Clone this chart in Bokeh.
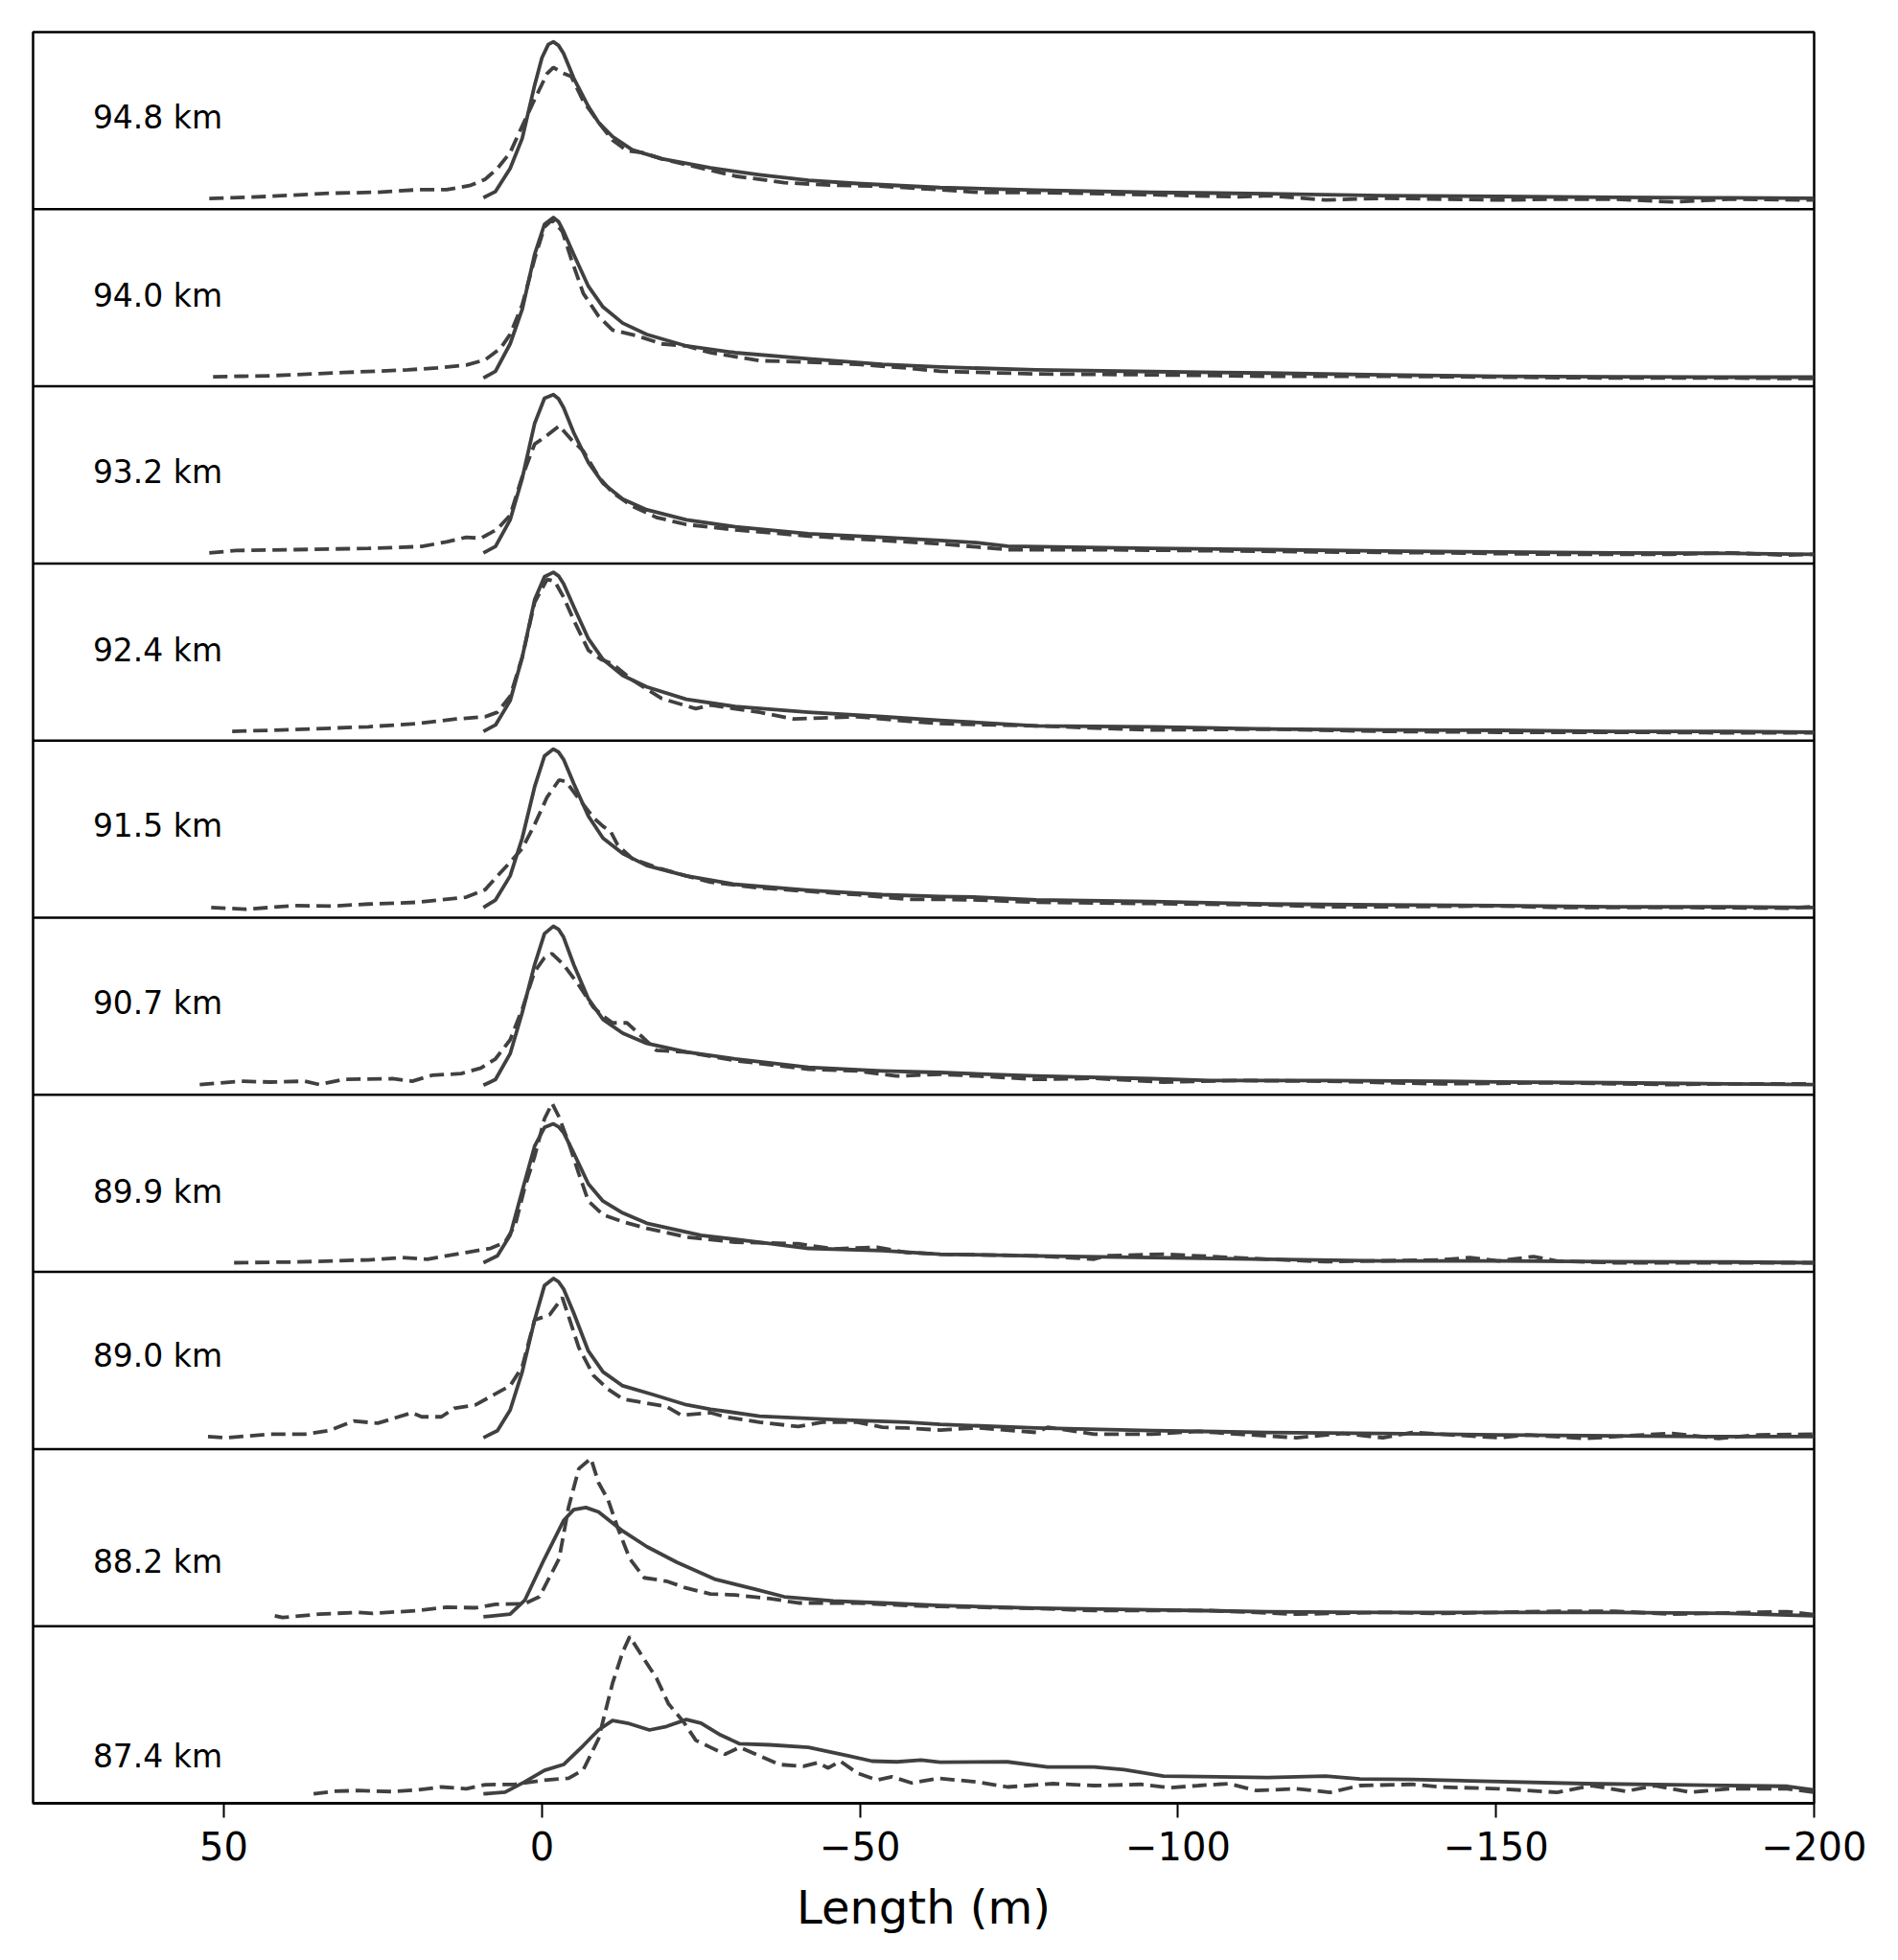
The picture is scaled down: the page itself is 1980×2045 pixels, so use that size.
from bokeh.plotting import figure
from bokeh.models import Range1d, FixedTicker, Span
from bokeh.core.properties import value
from bokeh.embed import file_html
from bokeh.resources import INLINE

# ---------------- data (x in m, y as fraction of panel height) ----------------
altitudes = ["94.8 km", "94.0 km", "93.2 km", "92.4 km", "91.5 km",
             "90.7 km", "89.9 km", "89.0 km", "88.2 km", "87.4 km"]
label_y = [0.52, 0.51, 0.515, 0.51, 0.52, 0.52, 0.455, 0.525, 0.365, 0.265]
label_x = 70.6

solid_948 = [(9.2,0.065),(7.3,0.10),(5.0,0.23),(3.1,0.40),(1.15,0.70),(0,0.855),(-1,0.93),(-1.8,0.945),(-2.6,0.925),(-3.4,0.88),(-5,0.74),(-7.3,0.58),(-8.9,0.49),(-11.1,0.41),(-14.2,0.335),(-18.8,0.285),(-26.5,0.233),(-34.2,0.195),(-41.9,0.163),(-49.6,0.145),(-62.6,0.122),(-77.7,0.108),(-95.9,0.095),(-114.1,0.088),(-132.2,0.077),(-150.4,0.072),(-168.6,0.067),(-186.7,0.064),(-200,0.062)]
dash_948 = [(52.3,0.06),(42.7,0.073),(33.5,0.09),(25.8,0.096),(19.6,0.11),(15,0.11),(11.2,0.135),(8.9,0.17),(7,0.23),(5,0.32),(3.1,0.47),(1.15,0.62),(-0.8,0.765),(-1.8,0.80),(-3.2,0.77),(-4.6,0.75),(-6.5,0.61),(-8.9,0.49),(-11.1,0.39),(-13.4,0.33),(-15.7,0.32),(-18.8,0.285),(-23.4,0.246),(-30.4,0.187),(-38.1,0.15),(-45.8,0.135),(-53.5,0.13),(-62.6,0.11),(-68.6,0.095),(-77.7,0.095),(-95.9,0.082),(-109.5,0.07),(-114.1,0.077),(-123.2,0.052),(-132.2,0.062),(-150.4,0.052),(-159.5,0.057),(-168.6,0.057),(-177.7,0.041),(-186.7,0.057),(-200,0.052)]

solid_940 = [(9.2,0.047),(7.3,0.085),(5,0.24),(3.1,0.435),(1.15,0.745),(-0.4,0.915),(-1.8,0.953),(-2.6,0.93),(-3.4,0.875),(-5,0.745),(-7.3,0.565),(-9.6,0.448),(-12.7,0.357),(-16.5,0.293),(-22.7,0.228),(-30.4,0.19),(-41.9,0.155),(-53.5,0.124),(-62.6,0.109),(-77.7,0.093),(-95.9,0.083),(-114.1,0.075),(-132.2,0.065),(-150.4,0.057),(-168.6,0.054),(-186.7,0.052),(-200,0.052)]
dash_940 = [(51.7,0.054),(42.7,0.06),(31.2,0.078),(21.1,0.093),(16.5,0.104),(11.9,0.12),(8.9,0.15),(6.5,0.215),(5,0.293),(3.1,0.46),(1.15,0.72),(-0.4,0.90),(-1.6,0.94),(-3.2,0.875),(-4.6,0.72),(-6.5,0.525),(-8.9,0.396),(-11.1,0.318),(-15,0.285),(-18.8,0.24),(-22.7,0.228),(-26.5,0.19),(-34.2,0.145),(-41.9,0.137),(-49.6,0.124),(-57.3,0.104),(-62.6,0.085),(-77.7,0.07),(-95.9,0.065),(-114.1,0.057),(-132.2,0.057),(-150.4,0.052),(-168.6,0.047),(-186.7,0.047),(-200,0.044)]

solid_932 = [(9.2,0.06),(7.3,0.096),(5,0.246),(3.1,0.48),(1.15,0.79),(-0.4,0.933),(-1.8,0.953),(-2.6,0.93),(-3.4,0.88),(-5,0.738),(-7.3,0.57),(-9.6,0.453),(-12.7,0.363),(-16.5,0.303),(-22.7,0.246),(-30.4,0.207),(-41.9,0.168),(-53.5,0.148),(-62.6,0.13),(-68.6,0.117),(-73.2,0.098),(-95.9,0.085),(-114.1,0.078),(-132.2,0.07),(-150.4,0.065),(-168.6,0.06),(-186.7,0.057),(-200,0.052)]
dash_932 = [(52.3,0.06),(48.1,0.073),(38.9,0.078),(27.3,0.085),(18.9,0.096),(15,0.122),(11.9,0.148),(9.6,0.142),(7,0.194),(5,0.272),(3.1,0.49),(1.15,0.674),(-0.4,0.712),(-2.7,0.777),(-4.6,0.70),(-6.5,0.635),(-8.9,0.49),(-11.1,0.40),(-14.2,0.324),(-18,0.26),(-22.7,0.22),(-30.4,0.19),(-41.9,0.155),(-53.5,0.13),(-62.6,0.111),(-73.2,0.078),(-86.8,0.078),(-105,0.072),(-123.2,0.065),(-141.3,0.06),(-159.5,0.052),(-177.7,0.052),(-186.7,0.06),(-195.8,0.047),(-200,0.052)]

solid_924 = [(9.2,0.052),(7.3,0.088),(5,0.225),(3.1,0.47),(1.15,0.795),(-0.4,0.925),(-1.8,0.95),(-2.6,0.93),(-3.4,0.886),(-5,0.756),(-7.3,0.575),(-9.6,0.458),(-12.7,0.368),(-16.5,0.303),(-22.7,0.233),(-30.4,0.192),(-41.9,0.16),(-53.5,0.135),(-62.6,0.114),(-77.7,0.083),(-95.9,0.078),(-114.1,0.065),(-132.2,0.06),(-150.4,0.058),(-168.6,0.052),(-186.7,0.052),(-200,0.047)]
dash_924 = [(48.7,0.052),(38.9,0.062),(27.3,0.078),(19.6,0.096),(13.5,0.122),(8.9,0.135),(7,0.16),(5,0.25),(3.1,0.47),(1.15,0.78),(-0.8,0.91),(-2,0.90),(-3.4,0.81),(-5,0.68),(-7.3,0.51),(-9.3,0.458),(-11.1,0.433),(-14.2,0.342),(-18.8,0.238),(-24.2,0.18),(-26.5,0.20),(-34.2,0.16),(-39.6,0.122),(-49.6,0.135),(-57.3,0.11),(-62.6,0.096),(-77.7,0.083),(-95.9,0.06),(-114.1,0.065),(-132.2,0.052),(-150.4,0.047),(-168.6,0.047),(-186.7,0.044),(-200,0.044)]

solid_915 = [(9.2,0.058),(7.3,0.10),(5,0.236),(3.1,0.449),(1.15,0.739),(-0.4,0.913),(-1.8,0.952),(-2.6,0.935),(-3.4,0.894),(-5,0.758),(-7.3,0.574),(-9.6,0.449),(-12.7,0.362),(-16.5,0.294),(-22.7,0.236),(-30.4,0.188),(-41.9,0.155),(-53.5,0.13),(-62.6,0.12),(-68.6,0.116),(-77.7,0.10),(-95.9,0.091),(-114.1,0.077),(-132.2,0.072),(-150.4,0.068),(-168.6,0.062),(-186.7,0.062),(-200,0.058)]
dash_915 = [(52,0.058),(46.5,0.048),(38.9,0.068),(32.8,0.066),(27.3,0.077),(19.6,0.087),(11.9,0.116),(8.9,0.159),(7,0.236),(5,0.313),(3.1,0.39),(1.15,0.526),(-0.8,0.68),(-2.7,0.778),(-3.8,0.768),(-5.8,0.671),(-8.1,0.565),(-9.6,0.516),(-10.8,0.487),(-11.9,0.41),(-14.2,0.333),(-18.8,0.275),(-22.7,0.236),(-26.5,0.201),(-34.2,0.168),(-41.9,0.149),(-49.6,0.13),(-57.3,0.104),(-62.6,0.104),(-68.6,0.10),(-77.7,0.087),(-95.9,0.08),(-114.1,0.072),(-123.2,0.062),(-132.2,0.062),(-150.4,0.066),(-159.5,0.058),(-177.7,0.058),(-195.8,0.054),(-200,0.062)]

solid_907 = [(9.2,0.054),(7.3,0.087),(5,0.232),(3.1,0.464),(1.15,0.735),(-0.4,0.91),(-1.8,0.952),(-2.6,0.935),(-3.4,0.89),(-5,0.735),(-7.3,0.542),(-9.6,0.426),(-12.7,0.348),(-16.5,0.29),(-22.7,0.242),(-30.4,0.203),(-41.9,0.155),(-53.5,0.135),(-62.6,0.126),(-77.7,0.106),(-95.9,0.091),(-105,0.081),(-123.2,0.081),(-141.3,0.077),(-150.4,0.073),(-168.6,0.068),(-186.7,0.062),(-200,0.058)]
dash_907 = [(53.8,0.058),(47.3,0.077),(42.7,0.072),(37.3,0.077),(35,0.058),(31.2,0.087),(23.5,0.091),(20.4,0.077),(17.3,0.11),(12.7,0.12),(9.6,0.151),(7.3,0.203),(5,0.31),(3.1,0.484),(1.15,0.696),(-0.4,0.774),(-1.6,0.797),(-3.4,0.735),(-5.8,0.619),(-8.1,0.493),(-9.6,0.445),(-11.1,0.406),(-13.4,0.406),(-15.7,0.329),(-18,0.251),(-22.7,0.242),(-30.4,0.193),(-41.9,0.145),(-49.6,0.135),(-55.7,0.106),(-62.6,0.116),(-68.6,0.106),(-77.7,0.087),(-86.8,0.093),(-97.7,0.072),(-109.5,0.081),(-123.2,0.077),(-141.3,0.062),(-159.5,0.068),(-168.6,0.062),(-177.7,0.058),(-186.7,0.062),(-200,0.062)]

solid_899 = [(9.2,0.052),(7,0.091),(5,0.207),(3.1,0.458),(1.15,0.71),(-0.4,0.816),(-1.8,0.836),(-2.6,0.82),(-3.4,0.787),(-5,0.671),(-7.3,0.497),(-9.6,0.40),(-12.7,0.333),(-16.5,0.275),(-25,0.207),(-34.2,0.168),(-41.9,0.133),(-53.5,0.12),(-62.6,0.10),(-77.7,0.091),(-95.9,0.081),(-114.1,0.072),(-132.2,0.062),(-150.4,0.062),(-168.6,0.058),(-186.7,0.056),(-200,0.052)]
dash_899 = [(48.4,0.052),(38.9,0.056),(27.3,0.068),(21.9,0.081),(18,0.072),(11.9,0.11),(8.1,0.133),(5.8,0.168),(4.2,0.265),(2.7,0.478),(1.15,0.652),(-0.4,0.865),(-1.6,0.952),(-2.7,0.874),(-4.2,0.729),(-5.8,0.555),(-7.3,0.40),(-9.6,0.323),(-12.7,0.284),(-16.5,0.246),(-22.7,0.197),(-30.4,0.168),(-40.3,0.159),(-45.8,0.13),(-52.7,0.139),(-57.3,0.11),(-62.6,0.10),(-77.7,0.091),(-86.8,0.072),(-88.6,0.091),(-97.7,0.10),(-114.1,0.072),(-123.2,0.058),(-141.3,0.068),(-145.9,0.081),(-150.4,0.062),(-155.9,0.087),(-159.5,0.062),(-168.6,0.052),(-186.7,0.052),(-200,0.052)]

solid_890 = [(9.2,0.064),(7,0.104),(5,0.22),(3.1,0.436),(1.15,0.729),(-0.4,0.924),(-1.8,0.963),(-2.6,0.945),(-3.4,0.904),(-5,0.768),(-7.3,0.553),(-9.6,0.436),(-12.7,0.357),(-17.3,0.309),(-22.7,0.25),(-26.5,0.225),(-34.2,0.186),(-45.8,0.166),(-57.3,0.152),(-62.6,0.139),(-77.7,0.119),(-95.9,0.104),(-114.1,0.094),(-132.2,0.088),(-150.4,0.08),(-168.6,0.074),(-186.7,0.07),(-200,0.07)]
dash_890 = [(52.5,0.07),(49.6,0.064),(42.7,0.084),(37.3,0.084),(33.5,0.104),(29.6,0.158),(25.8,0.146),(20.4,0.205),(18.9,0.182),(15.8,0.182),(13.8,0.23),(10.4,0.25),(7,0.318),(5,0.357),(3.1,0.465),(1.15,0.729),(-1.2,0.758),(-3.2,0.855),(-4.2,0.748),(-5.8,0.572),(-8.1,0.416),(-10.4,0.338),(-12.7,0.283),(-15.7,0.264),(-19.6,0.24),(-21.9,0.191),(-26.5,0.205),(-28.8,0.182),(-34.2,0.152),(-40.3,0.127),(-44.1,0.152),(-49.6,0.152),(-53.5,0.123),(-57.3,0.119),(-62.6,0.107),(-68.6,0.12),(-77.7,0.094),(-79.5,0.123),(-86.8,0.084),(-95.9,0.084),(-103.2,0.10),(-109.5,0.084),(-118.6,0.064),(-125.9,0.088),(-132.2,0.064),(-136.8,0.094),(-141.3,0.084),(-150.4,0.064),(-155,0.08),(-164.1,0.06),(-173.2,0.08),(-177.7,0.088),(-185,0.06),(-191.3,0.08),(-200,0.084)]

solid_882 = [(9.2,0.053),(5,0.068),(2.7,0.146),(-0.4,0.381),(-3.4,0.596),(-5,0.658),(-6.9,0.67),(-8.9,0.645),(-12.7,0.537),(-16.5,0.449),(-21.2,0.361),(-27.3,0.264),(-33.5,0.209),(-38.1,0.166),(-45.8,0.143),(-53.5,0.131),(-62.6,0.117),(-77.7,0.102),(-95.9,0.092),(-114.1,0.082),(-132.2,0.078),(-150.4,0.078),(-168.6,0.078),(-186.7,0.072),(-200,0.059)]
dash_882 = [(42,0.059),(40.8,0.049),(35,0.068),(28.9,0.078),(26.6,0.072),(19.6,0.088),(15,0.107),(10.4,0.104),(7.3,0.123),(2.7,0.127),(0.4,0.166),(-2.7,0.381),(-4.2,0.674),(-5.8,0.889),(-7.7,0.947),(-8.9,0.81),(-10.4,0.713),(-11.9,0.557),(-13.8,0.381),(-16.1,0.273),(-19.6,0.254),(-22.7,0.215),(-26.5,0.182),(-30.4,0.176),(-35.8,0.156),(-40.3,0.131),(-49.6,0.131),(-57.3,0.117),(-62.6,0.111),(-77.7,0.10),(-86.8,0.088),(-105,0.088),(-118.6,0.068),(-132.2,0.078),(-141.3,0.072),(-159.5,0.084),(-168.6,0.084),(-177.7,0.068),(-195.8,0.082),(-200,0.065)]

solid_874 = [(9.2,0.053),(5.8,0.063),(2.7,0.121),(-0.4,0.186),(-3.4,0.219),(-6.5,0.326),(-8.9,0.414),(-11.1,0.467),(-13.4,0.453),(-16.9,0.414),(-19.6,0.434),(-22.7,0.473),(-25,0.453),(-28.1,0.385),(-31.1,0.336),(-35.8,0.33),(-41.9,0.316),(-48.1,0.268),(-51.9,0.238),(-55.8,0.234),(-59.6,0.244),(-62.6,0.232),(-73.2,0.234),(-79.5,0.205),(-86.8,0.205),(-91.5,0.19),(-97.7,0.154),(-114.1,0.145),(-123.2,0.154),(-128.6,0.137),(-136.8,0.135),(-145.9,0.127),(-164.1,0.111),(-177.7,0.105),(-195.8,0.096),(-200,0.075)]
dash_874 = [(35.9,0.053),(32.7,0.068),(28.9,0.072),(23.5,0.066),(19.6,0.076),(15.8,0.092),(11.9,0.082),(8.9,0.105),(4.2,0.107),(-0.4,0.131),(-4.2,0.141),(-6.5,0.189),(-8.9,0.365),(-11.1,0.678),(-12.7,0.854),(-13.8,0.941),(-15.7,0.834),(-18,0.707),(-19.9,0.561),(-22.2,0.463),(-24.2,0.355),(-26.5,0.316),(-28.8,0.277),(-31.1,0.316),(-34.2,0.268),(-37.3,0.219),(-41.1,0.209),(-43.4,0.229),(-45,0.199),(-46.9,0.238),(-49.6,0.17),(-52.7,0.131),(-55,0.15),(-58.1,0.115),(-62.3,0.141),(-68.6,0.12),(-73.2,0.092),(-80.4,0.111),(-86.8,0.10),(-94.1,0.107),(-98.6,0.088),(-103.2,0.10),(-108,0.111),(-112.3,0.072),(-118.6,0.082),(-123.9,0.062),(-128.6,0.10),(-136.8,0.107),(-141.3,0.092),(-150.4,0.082),(-159.6,0.062),(-165,0.10),(-170.4,0.068),(-175,0.10),(-180.5,0.062),(-186.7,0.082),(-195.8,0.082),(-200,0.062)]

solid_series = [solid_948, solid_940, solid_932, solid_924, solid_915,
                solid_907, solid_899, solid_890, solid_882, solid_874]
dashed_series = [dash_948, dash_940, dash_932, dash_924, dash_915,
                 dash_907, dash_899, dash_890, dash_882, dash_874]

tick_values = [50, 0, -50, -100, -150, -200]
tick_labels = ["50", "0", "\u221250", "\u2212100", "\u2212150", "\u2212200"]
x_label = "Length (m)"

# ---------------- figure ----------------
n = len(altitudes)
LINE = "#404040"

p = figure(frame_width=1858, frame_height=1848,
           x_range=Range1d(80, -200), y_range=Range1d(0, n),
           y_axis_location=None, toolbar_location=None,
           output_backend="svg",
           min_border_left=34, min_border_right=60,
           min_border_top=33, min_border_bottom=120)
p.xgrid.visible = False
p.ygrid.visible = False
p.background_fill_color = "white"
p.border_fill_color = "white"
p.outline_line_color = "black"
p.outline_line_width = 2.5

for k in range(n):
    base = n - 1 - k
    sx = [pt[0] for pt in solid_series[k]]
    sy = [pt[1] + base for pt in solid_series[k]]
    dx = [pt[0] for pt in dashed_series[k]]
    dy = [pt[1] + base for pt in dashed_series[k]]
    p.line(dx, dy, line_color=LINE, line_width=3.8, line_dash="15 7")
    p.line(sx, sy, line_color=LINE, line_width=3.8, line_join="round")
    p.text(x=[label_x], y=[label_y[k] + base], text=[altitudes[k]],
           text_font=value("DejaVu Sans"), text_font_size="33px",
           text_color="black", text_align="left", text_baseline="middle")
    if k > 0:
        p.add_layout(Span(location=base + 1, dimension="width",
                          line_color="black", line_width=2.5))

ax = p.xaxis[0]
ax.ticker = FixedTicker(ticks=tick_values)
ax.major_label_overrides = {v: l for v, l in zip(tick_values, tick_labels)}
ax.minor_tick_line_color = None
ax.major_tick_in = 0
ax.major_tick_out = 15
ax.major_tick_line_width = 2
ax.major_tick_line_color = "black"
ax.axis_line_color = "black"
ax.axis_line_width = 2.5
ax.major_label_text_font = "DejaVu Sans"
ax.major_label_text_font_size = "40px"
ax.major_label_text_color = "black"
ax.major_label_standoff = 14
ax.axis_label = x_label
ax.axis_label_text_font = "DejaVu Sans"
ax.axis_label_text_font_size = "48px"
ax.axis_label_text_font_style = "normal"
ax.axis_label_text_color = "black"
ax.axis_label_standoff = 18

with open("out.html", "w") as f:
    f.write(file_html(p, INLINE))
